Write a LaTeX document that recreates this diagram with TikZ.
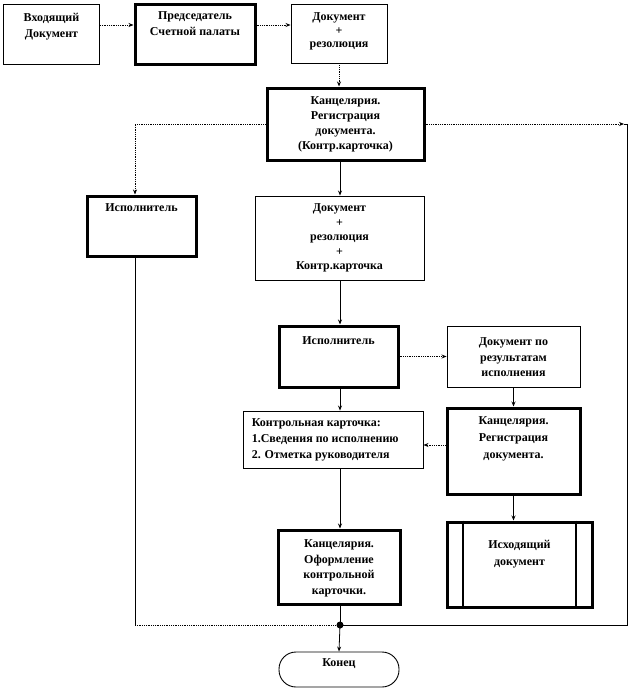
\documentclass[tikz,border=0pt]{standalone}
\usepackage{fontspec}
\setmainfont{Liberation Serif}
\usetikzlibrary{arrows.meta,calc}
\tikzset{
  thinbox/.style={draw=black, line width=0.9pt, fill=white, inner sep=0pt},
  thickbox/.style={draw=black, line width=3pt, fill=white, inner sep=0pt},
  txt/.style={font=\bfseries\fontsize{12}{15}\selectfont, align=center, inner sep=0pt, anchor=north},
  con/.style={line width=0.8pt, draw=black},
  dcon/.style={line width=0.8pt, draw=black, densely dotted},
  arr/.style={-{Stealth[length=5pt,width=4pt]}},
}
\begin{document}
\begin{tikzpicture}[x=1pt,y=-1pt]
\useasboundingbox (0,0) rectangle (629,688);
% boxes
\node[thinbox, minimum width=96, minimum height=60] (b1) at (51.5,34) {};
\node[thickbox, minimum width=120, minimum height=60] (b2) at (195,34) {};
\node[thinbox, minimum width=96, minimum height=59] (b3) at (339,33.5) {};
\node[thickbox, minimum width=157, minimum height=72] (b4) at (345.5,124) {};
\node[thickbox, minimum width=109, minimum height=60] (b5) at (141.5,226) {};
\node[thinbox, minimum width=169, minimum height=84] (b6) at (339.5,238) {};
\node[thickbox, minimum width=119, minimum height=61] (b7) at (338.5,356.5) {};
\node[thinbox, minimum width=133, minimum height=61] (b8) at (513.5,356.5) {};
\node[thinbox, minimum width=180, minimum height=57] (b9) at (333,439.5) {};
\node[thickbox, minimum width=133, minimum height=86] (b10) at (513.5,451) {};
\node[thickbox, minimum width=122, minimum height=74] (b11) at (339,567) {};
\node[thickbox, minimum width=145, minimum height=85] (b12) at (519.5,564.5) {};
\node[thinbox, rounded corners=17pt, minimum width=120, minimum height=35] (end) at (339,669.5) {};
% inner lines of predefined process
\draw[line width=2pt] ($(b12.north west)+(17,0)$) -- ($(b12.south west)+(17,0)$);
\draw[line width=2pt] ($(b12.north east)+(-18,0)$) -- ($(b12.south east)+(-18,0)$);
% texts
\node[txt, font=\bfseries\fontsize{12}{16}\selectfont] at ($(b1.north)+(0,9)$) {Входящий\\Документ};
\node[txt, font=\bfseries\fontsize{12}{16}\selectfont] at ($(b2.north)+(0,9)$) {Председатель\\Счетной палаты};
\node[txt, font=\bfseries\fontsize{12}{13.5}\selectfont] at ($(b3.north)+(0,9)$) {Документ\\+\\резолюция};
\node[txt] at ($(b4.north)+(0,10)$) {Канцелярия.\\Регистрация\\документа.\\(Контр.карточка)};
\node[txt] at ($(b5.north)+(0,9)$) {Исполнитель};
\node[txt, font=\bfseries\fontsize{12}{14.5}\selectfont] at ($(b6.north)+(0,8)$) {Документ\\+\\резолюция\\+\\Контр.карточка};
\node[txt] at ($(b7.north)+(0,12)$) {Исполнитель};
\node[txt, font=\bfseries\fontsize{12}{15.5}\selectfont] at ($(b8.north)+(0,12)$) {Документ по\\результатам\\исполнения};
\node[txt, font=\bfseries\fontsize{12}{16}\selectfont, align=left, anchor=north west] at ($(b9.north west)+(9,8)$) {Контрольная карточка:\\1.Сведения по исполнению\\2. Отметка руководителя};
\node[txt, font=\bfseries\fontsize{12}{17}\selectfont] at ($(b10.north)+(0,10)$) {Канцелярия.\\Регистрация\\документа.};
\node[txt, font=\bfseries\fontsize{12}{15.5}\selectfont] at ($(b11.north)+(0,11)$) {Канцелярия.\\Оформление\\контрольной\\карточки.};
\node[txt, font=\bfseries\fontsize{12}{17}\selectfont] at ($(b12.north)+(0,20)$) {Исходящий\\документ};
\node[txt] at ($(end.north)+(0,7)$) {Конец};
% helper coordinates
\coordinate (ytop) at (0,25);
\coordinate (lft) at (135,0);
\coordinate (rgt) at (627,0);
\coordinate (jn) at (340,625);
\coordinate (rtip) at (624,124);
% connectors
\draw[dcon, arr] (b1.east |- ytop) -- (b2.west |- ytop);
\draw[dcon, arr] (b2.east |- ytop) -- (b3.west |- ytop);
\draw[dcon, arr] (b3.south) -- (b4.north -| b3.south);
\draw[dcon, arr] (b4.west) -| (b5.north -| lft);
\draw[dcon, arr] (b4.east) -- (rtip);
\draw[con] (jn) -| (rgt |- b4.east) -- (rtip);
\draw[con, arr] (b4.south -| jn) -- (b6.north -| jn);
\draw[con, arr] (b6.south -| jn) -- (b7.north -| jn);
\draw[dcon, arr] (b7.east) -- (b8.west |- b7.east);
\draw[con, arr] (b7.south -| jn) -- (b9.north -| jn);
\draw[con, arr] (b8.south) -- (b10.north);
\draw[dcon, arr] (b10.west |- 0,445) -- (b9.east |- 0,445);
\draw[con, arr] (b9.south -| jn) -- (b11.north -| jn);
\draw[con, arr] (b10.south) -- (b12.north -| b10.south);
\draw[con] (b11.south -| jn) -- (jn);
\draw[con] (b5.south -| lft) -- (lft |- jn);
\draw[dcon] (lft |- jn) -- (jn);
\draw[con, arr] (jn) -- (end.north);
\fill (jn) circle (3.5pt);
\end{tikzpicture}
\end{document}
